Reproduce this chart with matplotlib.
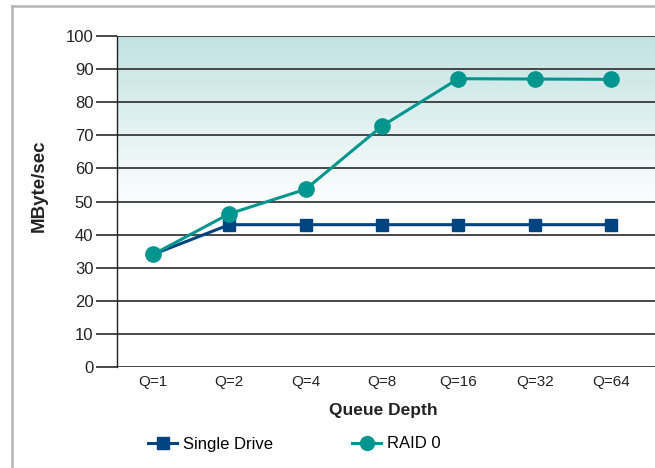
import matplotlib
matplotlib.use("Agg")
import matplotlib.pyplot as plt
import numpy as np
from matplotlib.lines import Line2D

plt.rcParams['font.family'] = ['Liberation Sans Narrow', 'Liberation Sans', 'DejaVu Sans']

categories = ["Q=1", "Q=2", "Q=4", "Q=8", "Q=16", "Q=32", "Q=64"]
single_drive = [34, 43, 43, 43, 43, 43, 43]
raid0 = [34, 46.3, 53.7, 72.8, 87.1, 87.0, 86.9]
yticks = [0, 10, 20, 30, 40, 50, 60, 70, 80, 90, 100]

W, H = 655, 468
fig = plt.figure(figsize=(W / 100, H / 100), dpi=100)
ax = fig.add_axes([117 / W, 1 - 367 / H, (655 - 117) / W, (367 - 36) / H])

x = np.arange(len(categories))
ax.set_xlim(-0.472, 6.577)
ax.set_ylim(0, 100)

# gradient background: teal at top fading to white around 50
ys = np.linspace(0, 100, 400)
t = np.clip((ys - 48) / 52, 0, 1)
top = np.array([0.76, 0.885, 0.885])
col = 1 - (1 - top)[None, :] * t[:, None]
img = np.tile(col[:, None, :], (1, 2, 1))
ax.imshow(img, extent=[-0.472, 6.577, 0, 100], origin='lower', aspect='auto', zorder=0)

for yv in yticks:
    ax.axhline(yv, color='#3a3a3a', lw=1.3, zorder=1)

ax.plot(x, single_drive, color='#00447f', lw=2.2, marker='s', ms=9, zorder=3,
        markevery=list(range(1, len(x))), label='Single Drive')
ax.plot(x, raid0, color='#00958f', lw=2.2, marker='o', ms=11, zorder=4,
        label='RAID 0')

ax.set_xticks(x)
ax.set_xticklabels(categories, fontsize=11, color='#222222')
ax.set_yticks(yticks)
ax.set_yticklabels([str(v) for v in yticks], fontsize=12, color='#222222')
ax.tick_params(axis='y', length=15, width=1.3, color='#3a3a3a', pad=2)
ax.tick_params(axis='x', length=0, pad=6)
for s in ['top', 'right', 'bottom']:
    ax.spines[s].set_visible(False)
ax.spines['left'].set_color('#222222')
ax.spines['left'].set_linewidth(1.0)

ax.set_xlabel('Queue Depth', fontsize=12.5, fontweight='bold', color='#222222')
ax.set_ylabel('MByte/sec', fontsize=13.5, fontweight='bold', color='#222222')
ax.xaxis.set_label_coords((383 - 117) / (655 - 117), -(403 - 367) / (367 - 36))
ax.yaxis.set_label_coords(-(117 - 48) / (655 - 117), (367 - 186) / (367 - 36))

h1 = Line2D([], [], color='#00447f', lw=2.2, marker='s', ms=9)
h2 = Line2D([], [], color='#00958f', lw=2.2, marker='o', ms=10)
leg1 = fig.legend([h1], ['Single Drive'], loc='center left',
                  bbox_to_anchor=(148 / W, 1 - 444 / H), frameon=False, fontsize=12,
                  handlelength=1.75, handletextpad=0.35, borderpad=0, borderaxespad=0)
leg2 = fig.legend([h2], ['RAID 0'], loc='center left',
                  bbox_to_anchor=(352 / W, 1 - 444 / H), frameon=False, fontsize=12,
                  handlelength=1.75, handletextpad=0.35, borderpad=0, borderaxespad=0)

# light gray frame
fig.add_artist(Line2D([12 / W, 1], [1 - 6 / H, 1 - 6 / H], color='#b5b5b5', lw=1.8,
                      transform=fig.transFigure))
fig.add_artist(Line2D([12 / W, 12 / W], [0, 1 - 6 / H], color='#b5b5b5', lw=1.8,
                      transform=fig.transFigure))

fig.savefig('out.png', dpi=100)
